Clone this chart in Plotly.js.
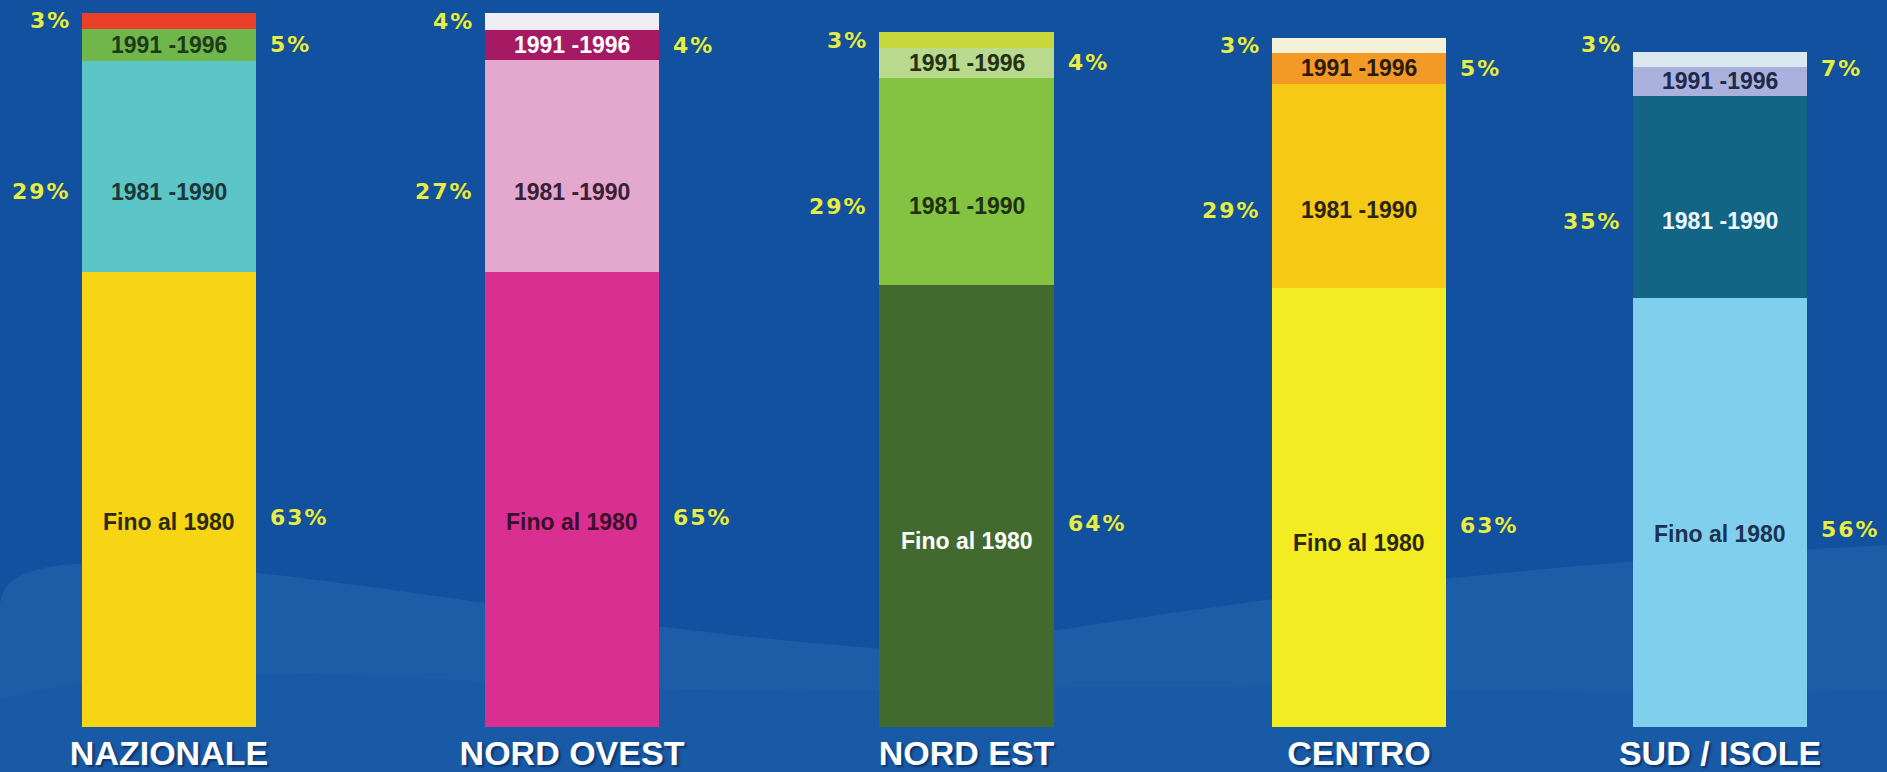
<!DOCTYPE html>
<html>
<head>
<meta charset="utf-8">
<script src="https://cdn.plot.ly/plotly-3.0.1.min.js"></script>
<style>
html,body{margin:0;padding:0;background:#12519f;overflow:hidden}
#chart{width:1887px;height:772px}
</style>
</head>
<body>
<div id="chart"></div>
<script>
// ---------------- DATA ----------------
const regions = ['NAZIONALE', 'NORD OVEST', 'NORD EST', 'CENTRO', 'SUD / ISOLE'];
const segmentNames = ['Fino al 1980', '1981 -1990', '1991 -1996', 'Dopo il 1996'];

// percentages printed beside each bar
const pctFino = [63, 65, 64, 63, 56];
const pct8190 = [29, 27, 29, 29, 35];
const pct9196 = [5, 4, 4, 5, 7];
const pctDopo = [3, 4, 3, 3, 3];

// segment lengths as drawn in the picture (share of the tallest bar, %)
const lenFino = [63.7, 63.7, 61.9, 61.5, 60.1];
const len8190 = [29.6, 29.7, 29.0, 28.6, 28.3];
const len9196 = [4.5, 4.2, 4.2, 4.3, 4.1];
const lenDopo = [2.2, 2.4, 2.2, 2.1, 2.1];

// ---------------- STYLE ----------------
const colFino = ['#f8d514', '#d92f90', '#436a2e', '#f4ec22', '#80cfec'];
const col8190 = ['#5cc5c8', '#e4a8cf', '#84c242', '#f5c916', '#136585'];
const col9196 = ['#70b74b', '#a51a62', '#b9da8c', '#f39a26', '#aab1dd'];
const colDopo = ['#ea3f28', '#efeef3', '#c8d83c', '#f4f1d8', '#dbe8ef'];

const txtFino = ['#2b2a12', '#3b0f2b', '#ffffff', '#2b2810', '#1b3350'];
const txt8190 = ['#1d3838', '#3a2033', '#1e3010', '#2b2410', '#eef7fb'];
const txt9196 = ['#1e3a1a', '#ffffff', '#243018', '#2b1a08', '#1d2a4a'];

const W = 1887, H = 772;
const barEdges = [[82, 256], [485, 659], [879, 1054], [1272, 1446], [1633, 1807]];
const finoLabelPos = [0.45, 0.45, 0.42, 0.42, 0.45];
const PLOT_TOP = 13, PLOT_BOTTOM = 727;

const lens = [lenFino, len8190, len9196, lenDopo];
const cols = [colFino, col8190, col9196, colDopo];

const segFont = {family: 'Liberation Sans, Arial, sans-serif', size: 23, weight: 700};
const pctFont = {family: 'DejaVu Sans, Verdana, sans-serif', size: 22, weight: 700, color: '#e4ed4e',
                 shadow: '0px 0px 1px rgba(60,70,0,0.8)'};
const pctText = v => '<span style="letter-spacing:2px">' + v + '%</span>';

// ---------------- TRACES ----------------
const traces = [];
const layout = {
  width: W, height: H,
  margin: {l: 0, r: 0, t: PLOT_TOP, b: H - PLOT_BOTTOM, pad: 0},
  paper_bgcolor: '#12519f',
  plot_bgcolor: 'rgba(0,0,0,0)',
  barmode: 'stack',
  bargap: 0,
  showlegend: false,
  yaxis: {range: [0, 100], domain: [0, 1], visible: false, fixedrange: true},
  annotations: [],
  shapes: []
};

regions.forEach((reg, i) => {
  const xa = i === 0 ? 'x' : 'x' + (i + 1);
  const axKey = i === 0 ? 'xaxis' : 'xaxis' + (i + 1);
  layout[axKey] = {
    domain: [barEdges[i][0] / W, barEdges[i][1] / W],
    anchor: 'y',
    type: 'category',
    range: [-0.5, 0.5],
    showgrid: false, zeroline: false, showline: false, ticks: '',
    tickfont: {family: 'Liberation Sans, Arial, sans-serif', size: 34, weight: 700, color: '#ffffff',
               shadow: '2px 2px 2px rgba(0,20,60,0.55)'},
    ticklabelstandoff: 3,
    fixedrange: true
  };
  lens.forEach((arr, s) => {
    traces.push({
      type: 'bar',
      x: [reg], y: [arr[i]],
      xaxis: xa, yaxis: 'y',
      name: segmentNames[s],
      marker: {color: cols[s][i], line: {width: 0}},
      hoverinfo: 'skip'
    });
  });

  const b1 = lenFino[i], b2 = b1 + len8190[i], b3 = b2 + len9196[i], tot = b3 + lenDopo[i];
  const A = layout.annotations;
  // labels inside the segments
  A.push({xref: xa, yref: 'y', x: 0, y: b1 * finoLabelPos[i], text: segmentNames[0], showarrow: false,
          xanchor: 'center', yanchor: 'middle', font: Object.assign({color: txtFino[i]}, segFont)});
  A.push({xref: xa, yref: 'y', x: 0, y: b1 + len8190[i] * 0.38, text: segmentNames[1], showarrow: false,
          xanchor: 'center', yanchor: 'middle', font: Object.assign({color: txt8190[i]}, segFont)});
  A.push({xref: xa, yref: 'y', x: 0, y: b2 + len9196[i] * 0.5, text: segmentNames[2], showarrow: false,
          xanchor: 'center', yanchor: 'middle', font: Object.assign({color: txt9196[i]}, segFont)});
  // percentages beside the bar
  const topShift = i === 4 ? 15 : 0, midShift = i === 4 ? 13 : 0;
  A.push({xref: xa, yref: 'y', x: -0.5, y: tot - lenDopo[i] * 0.5, yshift: topShift, xshift: -9,
          text: pctText(pctDopo[i]), showarrow: false, xanchor: 'right', yanchor: 'middle', font: pctFont});
  A.push({xref: xa, yref: 'y', x: -0.5, y: b1 + len8190[i] * 0.38, xshift: -9,
          text: pctText(pct8190[i]), showarrow: false, xanchor: 'right', yanchor: 'middle', font: pctFont});
  A.push({xref: xa, yref: 'y', x: 0.5, y: b2 + len9196[i] * 0.5, yshift: midShift, xshift: 12,
          text: pctText(pct9196[i]), showarrow: false, xanchor: 'left', yanchor: 'middle', font: pctFont});
  A.push({xref: xa, yref: 'y', x: 0.5, y: b1 * 0.46, xshift: 12,
          text: pctText(pctFino[i]), showarrow: false, xanchor: 'left', yanchor: 'middle', font: pctFont});
});

// ---------------- BACKGROUND WAVE (pixel path -> paper coords) ----------------
const px = (x, y) => (x / W).toFixed(5) + ',' + ((PLOT_BOTTOM - y) / (PLOT_BOTTOM - PLOT_TOP)).toFixed(5);
const wave = 'M' + px(0, 772) + ' L' + px(0, 610) +
  ' C' + px(0, 575) + ' ' + px(30, 562) + ' ' + px(120, 563) +
  ' C' + px(300, 566) + ' ' + px(600, 630) + ' ' + px(900, 650) +
  ' C' + px(1050, 640) + ' ' + px(1300, 575) + ' ' + px(1887, 545) +
  ' L' + px(1887, 772) + ' Z';
layout.shapes.push({type: 'path', xref: 'paper', yref: 'paper', path: wave, layer: 'below',
                    fillcolor: '#1b5da7', line: {width: 0}});
const streak = 'M' + px(0, 700) + ' C' + px(200, 640) + ' ' + px(500, 700) + ' ' + px(900, 690) +
  ' C' + px(1300, 680) + ' ' + px(1600, 700) + ' ' + px(1887, 690) + ' L' + px(1887, 772) + ' L' + px(0, 772) + ' Z';
layout.shapes.push({type: 'path', xref: 'paper', yref: 'paper', path: streak, layer: 'below',
                    fillcolor: 'rgba(22,88,166,0.5)', line: {width: 0}});

Plotly.newPlot('chart', traces, layout, {displayModeBar: false, staticPlot: true});
</script>
</body>
</html>
